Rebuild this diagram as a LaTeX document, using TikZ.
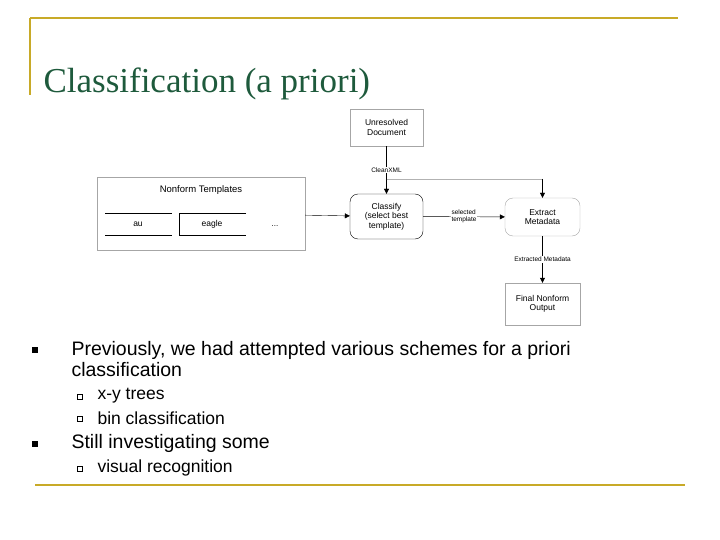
\documentclass[tikz,border=0pt]{standalone}
\usepackage{fontspec}
\setmainfont{Liberation Sans}
\newfontfamily\titlefont{Liberation Serif}
\usetikzlibrary{arrows.meta}
\definecolor{gold}{RGB}{200,170,40}
\definecolor{titlegreen}{RGB}{30,90,60}
\tikzset{
  box/.style={draw=gray!70, inner sep=0pt, font=\fontsize{8.5}{9.5}\selectfont, align=center},
  lbl/.style={font=\fontsize{6.5}{7}\selectfont, fill=white, inner sep=1pt},
  flow/.style={-{Triangle[length=5pt,width=5pt]}},
  bullet/.style={fill=black, minimum size=6pt, inner sep=0pt},
  subbullet/.style={draw=black, minimum size=5pt, inner sep=0pt},
}
\begin{document}
\begin{tikzpicture}[x=1pt,y=-1pt]
  \useasboundingbox (0,0) rectangle (720,540);
  % slide frame
  \draw[gold, line width=1.5pt] (30,18) -- (30,95);
  \draw[gold, line width=1.5pt] (30,18) -- (678,18);
  \draw[gold, line width=1.5pt] (35,485) -- (685,485);
  \node[anchor=west, text=titlegreen, font=\titlefont\fontsize{35}{37}\selectfont] (title) at (40,84) {Classification (a priori)};

  % diagram
  \node[box, minimum width=73pt, minimum height=37pt] (unres) at (386.5,127.5) {Unresolved\\Document};
  \node[box, rounded corners=8pt, draw=black, minimum width=73pt, minimum height=45pt] (classify) at (386.5,216.5) {Classify\\(select best\\template)};
  \node[box, rounded corners=8pt, minimum width=75pt, minimum height=38pt] (extract) at (542.5,217) {Extract\\Metadata};
  \node[box, minimum width=75pt, minimum height=42pt] (final) at (542.5,304) {Final Nonform\\Output};
  \node[box, minimum width=208pt, minimum height=73pt] (templ) at (201,213.5) {};
  \node[font=\fontsize{9.5}{10}\selectfont] (ttitle) at (201,190) {Nonform Templates};
  \draw (105,213) -- (172,213) (105,235) -- (172,235);
  \node[font=\fontsize{8.5}{9}\selectfont] (au) at (138,224) {au};
  \draw (246,213) -- (179,213) -- (179,235) -- (246,235);
  \node[font=\fontsize{8.5}{9}\selectfont] (eagle) at (212,224) {eagle};
  \node[font=\fontsize{8}{8}\selectfont] (dots) at (275,226) {...};

  \coordinate (turn) at (542.5,179);
  \draw[flow] (unres) -- node[lbl]{CleanXML} (classify);
  \draw[gray!60] (386.5,179) -- (turn);
  \draw[flow] (turn) -- (extract);
  \draw[flow] (templ) -- (classify);
  \draw[flow] (classify) -- node[lbl, align=left]{selected\\template} (extract);
  \draw[flow] (extract) -- node[lbl]{Extracted Metadata} (final);

  % bullets
  \node[bullet] (b1) at (35,350) {};
  \node[anchor=north west, align=left, font=\fontsize{19.5}{21}\selectfont] (t1) at (68,338) {Previously, we had attempted various schemes for a priori\\classification};
  \node[subbullet] (s1) at (80,397) {};
  \node[anchor=west, font=\fontsize{17.5}{19}\selectfont] (u1) at (94,396) {x-y trees};
  \node[subbullet] (s2) at (80,419) {};
  \node[anchor=west, font=\fontsize{17.5}{19}\selectfont] (u2) at (94,418) {bin classification};
  \node[bullet] (b2) at (35,444) {};
  \node[anchor=west, font=\fontsize{19.5}{21}\selectfont] (t2) at (68,443) {Still investigating some};
  \node[subbullet] (s3) at (80,469) {};
  \node[anchor=west, font=\fontsize{17.5}{19}\selectfont] (u3) at (94,468) {visual recognition};
\end{tikzpicture}
\end{document}
